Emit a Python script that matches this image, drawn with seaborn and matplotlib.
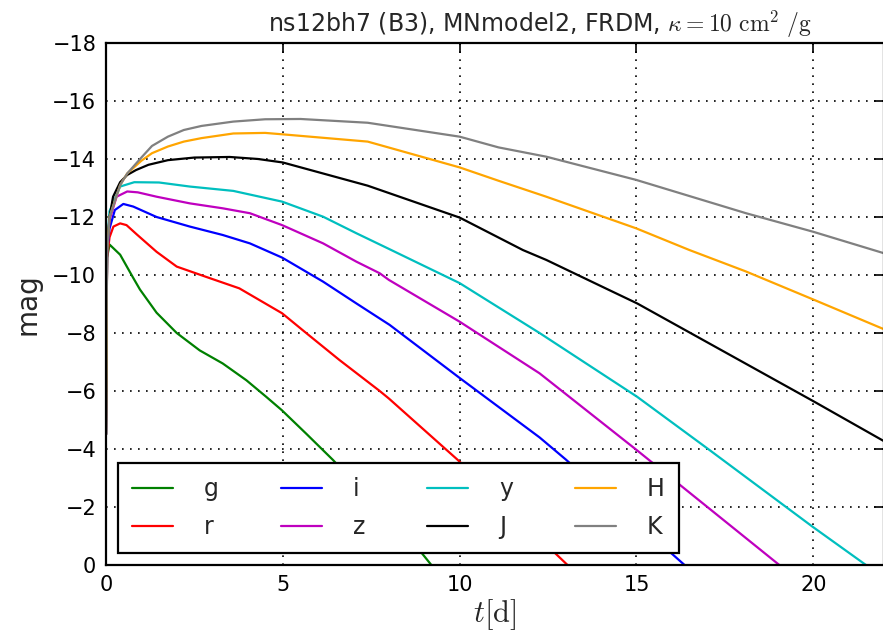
import matplotlib
matplotlib.use("Agg")
import matplotlib.pyplot as plt
import numpy as np
import pandas as pd
import seaborn as sns

# Light curves (absolute magnitude vs. time in days) per photometric band
bands = ["g", "r", "i", "z", "y", "J", "H", "K"]
colors = ["#008000", "#ff0000", "#0000ff", "#bf00bf", "#00bfbf", "#000000", "#ffa500", "#808080"]

t_g = [0, 0.03, 0.1, 0.4, 0.77, 0.96, 1.43, 2.0, 2.65, 3.3, 3.97, 4.53, 4.97, 5.66, 6.42, 7.5, 8.87, 9.2, 9.6]
m_g = [-4.5, -10.6, -11.05, -10.7, -9.9, -9.5, -8.7, -8.0, -7.4, -6.95, -6.37, -5.8, -5.34, -4.53, -3.62, -2.2, -0.5, 0.0, 0.5]

t_r = [0, 0.03, 0.1, 0.21, 0.4, 0.58, 0.87, 1.43, 2.0, 2.82, 3.77, 4.98, 5.66, 6.6, 7.74, 8.0, 9.95, 13.05, 13.5]
m_r = [-4.5, -10.6, -11.3, -11.67, -11.78, -11.72, -11.4, -10.8, -10.29, -9.94, -9.54, -8.68, -8.0, -7.07, -6.0, -5.74, -3.62, 0.0, 0.5]

t_i = [0, 0.03, 0.1, 0.25, 0.49, 0.77, 1.43, 2.37, 3.3, 4.07, 4.98, 6.14, 7.08, 7.74, 8.02, 10.0, 12.26, 13.0, 16.36, 16.8]
m_i = [-4.5, -10.8, -11.6, -12.24, -12.45, -12.36, -12.0, -11.67, -11.38, -11.09, -10.6, -9.77, -9.02, -8.5, -8.28, -6.45, -4.4, -3.64, 0.0, 0.5]

t_z = [0, 0.03, 0.1, 0.3, 0.6, 0.9, 1.43, 2.37, 3.3, 4.07, 4.98, 6.14, 7.08, 7.74, 8.0, 10.0, 12.26, 15.0, 19.04, 19.5]
m_z = [-4.5, -10.9, -11.9, -12.7, -12.88, -12.85, -12.7, -12.47, -12.3, -12.13, -11.72, -11.09, -10.46, -10.06, -9.83, -8.39, -6.61, -3.97, 0.0, 0.5]

t_y = [0, 0.03, 0.1, 0.4, 0.8, 1.5, 2.37, 3.6, 4.98, 6.14, 7.08, 8.0, 10.0, 12.26, 15.02, 17.06, 19.98, 21.49, 22.0]
m_y = [-4.5, -11.0, -12.2, -13.05, -13.2, -13.19, -13.05, -12.9, -12.53, -12.01, -11.44, -10.9, -9.72, -8.0, -5.8, -3.97, -1.32, 0.0, 0.45]

t_J = [0, 0.03, 0.1, 0.2, 0.4, 0.6, 0.85, 1.2, 1.75, 2.5, 3.5, 4.3, 5.0, 7.4, 10.0, 11.79, 12.45, 14.23, 15.02, 20.03, 22.0]
m_J = [-4.5, -10.9, -12.0, -12.7, -13.2, -13.45, -13.62, -13.8, -13.96, -14.05, -14.07, -14.0, -13.88, -13.08, -11.98, -10.86, -10.52, -9.48, -9.02, -5.63, -4.27]

t_H = [0, 0.03, 0.1, 0.4, 0.6, 1.0, 1.3, 1.75, 2.2, 2.7, 3.6, 4.5, 5.0, 7.4, 10.0, 11.1, 12.45, 14.99, 16.5, 18.1, 20.03, 22.0]
m_H = [-4.5, -10.8, -12.0, -13.1, -13.5, -13.94, -14.2, -14.43, -14.6, -14.72, -14.88, -14.9, -14.85, -14.6, -13.71, -13.25, -12.7, -11.61, -10.86, -10.12, -9.14, -8.13]

t_K = [0, 0.03, 0.1, 0.4, 0.6, 1.0, 1.3, 1.75, 2.2, 2.7, 3.6, 4.5, 5.5, 7.4, 10.0, 11.1, 12.45, 14.99, 18.1, 20.0, 22.0]
m_K = [-4.5, -10.8, -12.0, -13.1, -13.5, -14.05, -14.45, -14.77, -15.0, -15.14, -15.29, -15.37, -15.38, -15.25, -14.77, -14.4, -14.08, -13.28, -12.13, -11.49, -10.75]

times = [t_g, t_r, t_i, t_z, t_y, t_J, t_H, t_K]
mags = [m_g, m_r, m_i, m_z, m_y, m_J, m_H, m_K]

df = pd.concat(
    [pd.DataFrame({"t": t, "mag": m, "band": b}) for b, t, m in zip(bands, times, mags)],
    ignore_index=True,
)

sns.set_theme(style="white")
plt.rcParams["font.family"] = ["DejaVu Sans"]
plt.rcParams["mathtext.fontset"] = "cm"
plt.rcParams["axes.unicode_minus"] = True

fig = plt.figure(figsize=(8.83, 6.42), dpi=100)
ax = fig.add_axes([106 / 883, 77 / 642, (884 - 106) / 883, (565 - 43) / 642])

sns.lineplot(
    data=df, x="t", y="mag", hue="band", hue_order=bands,
    palette=dict(zip(bands, colors)), sort=False, estimator=None,
    linewidth=1.6, ax=ax,
)

ax.set_xlim(0, 22)
ax.set_ylim(0, -18)
ax.set_xticks([0, 5, 10, 15, 20])
ax.set_yticks(np.arange(0, -19, -2))

for s in ax.spines.values():
    s.set_color("black")
    s.set_linewidth(1.6)

ax.tick_params(direction="in", length=7, width=1.2, top=True, right=True,
               labelsize=15, pad=7, colors="black")
ax.grid(True, color="black", linestyle=(0, (1, 3.8)), linewidth=1.2)

ax.set_xlabel(r"$t[\mathrm{d}]$", fontsize=22, labelpad=2)
ax.set_ylabel("mag", fontsize=20, labelpad=8)
ax.set_title(r"ns12bh7 (B3), MNmodel2, FRDM, $\kappa=10\ \mathrm{cm}^2\ /\mathrm{g}$",
             fontsize=17, pad=8, x=(540 - 106) / 778)

handles, labels = ax.get_legend_handles_labels()
leg = ax.legend(handles, labels, ncol=4, loc="lower left", fontsize=17,
                handlelength=1.75, handletextpad=1.3, columnspacing=2.62,
                labelspacing=0.6, borderpad=0.6, borderaxespad=0.5,
                frameon=True, fancybox=False, framealpha=1, edgecolor="black")
leg.get_frame().set_linewidth(1.6)

fig.savefig("out.png", dpi=100)
